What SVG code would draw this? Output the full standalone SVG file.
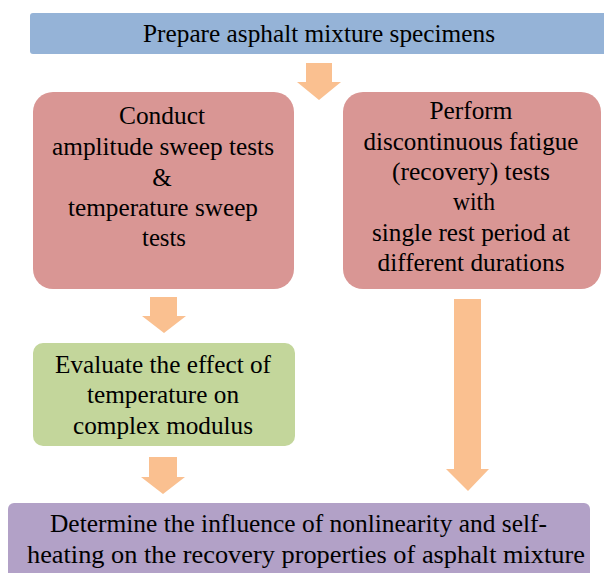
<svg xmlns="http://www.w3.org/2000/svg" width="604" height="573" viewBox="0 0 604 573">
<style>
.t{font-family:'Liberation Serif','Times New Roman',serif;font-size:25px;fill:#000;text-anchor:middle}
.arr{fill:#FAC090}
</style>
<rect width="604" height="573" fill="#fff"/>
<g id="connectors">
<polygon class="arr" points="306,63 332,63 332,82 341,82 319,100 297,82 306,82"/>
<polygon class="arr" points="150,297 177,297 177,316 186,316 164,333 142,316 150,316"/>
<polygon class="arr" points="149,457 177,457 177,477 185,477 163,494 141,477 149,477"/>
<polygon class="arr" points="454,299 481,299 481,469 489,469 468,491 446,469 454,469"/>
</g>
<g id="prepare" class="t">
<rect x="30" y="13" width="580" height="41" rx="3" fill="#95B3D7"/>
<text x="319" y="42" textLength="352" lengthAdjust="spacingAndGlyphs">Prepare asphalt mixture specimens</text>
</g>
<g id="conduct" class="t">
<rect x="33" y="92" width="261" height="197" rx="20" fill="#D99694"/>
<text x="162" y="124" textLength="86" lengthAdjust="spacingAndGlyphs">Conduct</text>
<text x="163" y="155" textLength="222" lengthAdjust="spacingAndGlyphs">amplitude sweep tests</text>
<text x="162" y="186">&amp;</text>
<text x="163" y="216" textLength="190" lengthAdjust="spacingAndGlyphs">temperature sweep</text>
<text x="164" y="246" textLength="44" lengthAdjust="spacingAndGlyphs">tests</text>
</g>
<g id="perform" class="t">
<rect x="343" y="92" width="258" height="197" rx="20" fill="#D99694"/>
<text x="471" y="119" textLength="83" lengthAdjust="spacingAndGlyphs">Perform</text>
<text x="471" y="150" textLength="215" lengthAdjust="spacingAndGlyphs">discontinuous fatigue</text>
<text x="471" y="180" textLength="158" lengthAdjust="spacingAndGlyphs">(recovery) tests</text>
<text x="474" y="210" textLength="42" lengthAdjust="spacingAndGlyphs">with</text>
<text x="471" y="241" textLength="198" lengthAdjust="spacingAndGlyphs">single rest period at</text>
<text x="471" y="271" textLength="187" lengthAdjust="spacingAndGlyphs">different durations</text>
</g>
<g id="evaluate" class="t">
<rect x="33" y="343" width="262" height="103" rx="10" fill="#C3D69B"/>
<text x="163" y="373" textLength="216" lengthAdjust="spacingAndGlyphs">Evaluate the effect of</text>
<text x="163" y="403" textLength="152" lengthAdjust="spacingAndGlyphs">temperature on</text>
<text x="163" y="434" textLength="180" lengthAdjust="spacingAndGlyphs">complex modulus</text>
</g>
<g id="determine" class="t">
<rect x="8" y="503" width="582" height="80" rx="6" fill="#B2A1C7"/>
<text x="298.5" y="532" textLength="497" lengthAdjust="spacingAndGlyphs">Determine the influence of nonlinearity and self-</text>
<text x="306" y="563" textLength="558" lengthAdjust="spacingAndGlyphs">heating on the recovery properties of asphalt mixture</text>
</g>
</svg>
